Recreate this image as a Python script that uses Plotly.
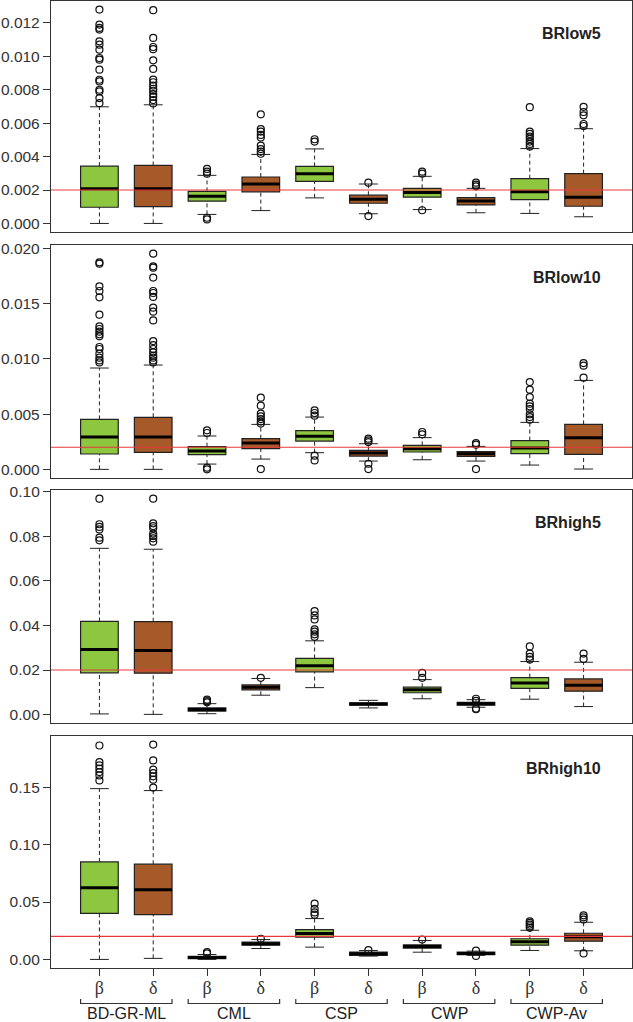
import plotly.graph_objects as go

# order of boxes: BD-GR-ML b/d, CML b/d, CSP b/d, CWP b/d, CWP-Av b/d
methods = ["BD-GR-ML", "CML", "CSP", "CWP", "CWP-Av"]
params = ["β", "δ"]
panel_names = ["BRlow5", "BRlow10", "BRhigh5", "BRhigh10"]
ref_lines = [0.002, 0.002, 0.02, 0.02]

brlow5_lower = [0.0, 0.0, 0.00054, 0.00077, 0.00153, 0.00058, 0.00083, 0.00064, 0.0006, 0.0004]
brlow5_q1 = [0.00097, 0.00101, 0.00133, 0.00189, 0.00252, 0.00121, 0.00157, 0.00111, 0.00143, 0.00103]
brlow5_median = [0.00208, 0.00208, 0.00163, 0.00236, 0.00298, 0.00145, 0.00185, 0.00135, 0.00189, 0.00157]
brlow5_q3 = [0.00343, 0.00347, 0.00192, 0.00278, 0.00341, 0.00169, 0.0021, 0.00155, 0.00268, 0.00298]
brlow5_upper = [0.00698, 0.0071, 0.00288, 0.00413, 0.00446, 0.00236, 0.00282, 0.0021, 0.00448, 0.00567]
brlow5_outliers = [
    [0.0128, 0.0119, 0.0117, 0.0116, 0.0109, 0.0107, 0.0104, 0.0099, 0.0098, 0.0092, 0.0086, 0.0085, 0.0080, 0.0079, 0.0075, 0.0072],
    [0.01276, 0.0111, 0.01056, 0.01043, 0.00976, 0.00925, 0.00861, 0.00845, 0.00825, 0.00806, 0.00794, 0.00774, 0.00758, 0.00738, 0.00718],
    [0.00326, 0.0031, 0.00298, 0.00034, 0.00024],
    [0.00653, 0.00565, 0.0055, 0.0053, 0.00514, 0.00466, 0.00445, 0.0043, 0.00417],
    [0.00504, 0.0049],
    [0.00244, 0.00044],
    [0.0031, 0.00298, 0.00079],
    [0.00244, 0.00232, 0.00222],
    [0.00696, 0.0055, 0.00536, 0.0052, 0.00506, 0.0049, 0.00476, 0.0046],
    [0.00698, 0.00667, 0.00647, 0.00595, 0.00583],
]

brlow10_lower = [0.0, 0.0, 0.00048, 0.00093, 0.00151, 0.00075, 0.00087, 0.00075, 0.00039, 0.00003]
brlow10_q1 = [0.00139, 0.00154, 0.00133, 0.00187, 0.00256, 0.0012, 0.00157, 0.00118, 0.00142, 0.00136]
brlow10_median = [0.00293, 0.00293, 0.00166, 0.00238, 0.00299, 0.00148, 0.00187, 0.00142, 0.00193, 0.00287]
brlow10_q3 = [0.00452, 0.00471, 0.00205, 0.00278, 0.0035, 0.00172, 0.00217, 0.0016, 0.0026, 0.00407]
brlow10_upper = [0.00917, 0.00944, 0.00302, 0.00407, 0.00473, 0.00232, 0.00287, 0.00208, 0.00425, 0.00805]
brlow10_outliers = [
    [0.01873, 0.01861, 0.01656, 0.01614, 0.01557, 0.014, 0.01294, 0.0127, 0.01246, 0.01222, 0.01204, 0.01107, 0.01089, 0.01047, 0.01011, 0.00986, 0.00968],
    [0.01952, 0.01837, 0.01825, 0.01735, 0.01614, 0.01596, 0.0156, 0.01463, 0.01427, 0.01348, 0.01161, 0.01125, 0.01089, 0.01059, 0.01029, 0.01011, 0.00986, 0.00968],
    [0.00353, 0.00329, 0.00015, 0.0],
    [0.00649, 0.00576, 0.00504, 0.0048, 0.00455, 0.00432, 0.00414, 0.00003],
    [0.00534, 0.0051, 0.00486, 0.00124, 0.00081],
    [0.00278, 0.00262, 0.00247, 0.00051, 0.00003],
    [0.00338, 0.00317],
    [0.00238, 0.00223, 0.00003],
    [0.0079, 0.00721, 0.00654, 0.00594, 0.0057, 0.00546, 0.00498, 0.00473, 0.0045],
    [0.00962, 0.00938, 0.0083],
]

brhigh5_lower = [0.0003, 0.0001, 0.0004, 0.0087, 0.0121, 0.003, 0.0071, 0.0033, 0.0069, 0.0036]
brhigh5_q1 = [0.01873, 0.0186, 0.0015, 0.0111, 0.0192, 0.0042, 0.0098, 0.0042, 0.0118, 0.0105]
brhigh5_median = [0.0292, 0.0288, 0.0023, 0.0123, 0.0219, 0.0047, 0.0111, 0.0049, 0.0142, 0.0132]
brhigh5_q3 = [0.0418, 0.0417, 0.003, 0.0133, 0.0252, 0.0053, 0.0123, 0.0055, 0.0166, 0.016]
brhigh5_upper = [0.0746, 0.0742, 0.0049, 0.0162, 0.0331, 0.0064, 0.0157, 0.0067, 0.0238, 0.0235]
brhigh5_outliers = [
    [0.0969, 0.0854, 0.0842, 0.0831, 0.0794, 0.0782],
    [0.0969, 0.0858, 0.0846, 0.0836, 0.0812, 0.0801, 0.0791, 0.0776],
    [0.0067, 0.006, 0.0055],
    [0.0165],
    [0.0464, 0.0445, 0.0427, 0.0382, 0.0372, 0.036, 0.0349],
    [],
    [0.0187, 0.0165],
    [0.0071, 0.0062, 0.0027, 0.0024],
    [0.0306, 0.0274, 0.0259, 0.0247],
    [0.0274, 0.025],
]

brhigh10_lower = [0.0, 0.0009, 0.0, 0.0095, 0.0107, 0.0029, 0.0063, 0.0035, 0.0078, 0.0075]
brhigh10_q1 = [0.0402, 0.039, 0.0006, 0.0124, 0.0194, 0.0035, 0.0098, 0.0041, 0.0124, 0.0159]
brhigh10_median = [0.0624, 0.0607, 0.0017, 0.0137, 0.0226, 0.0049, 0.0113, 0.0051, 0.0153, 0.0197]
brhigh10_q3 = [0.085, 0.083, 0.0026, 0.015, 0.026, 0.0063, 0.0127, 0.0063, 0.018, 0.0228]
brhigh10_upper = [0.1489, 0.1472, 0.0043, 0.0173, 0.0356, 0.0078, 0.0165, 0.0072, 0.0254, 0.0324]
brhigh10_outliers = [
    [0.1865, 0.172, 0.1691, 0.1663, 0.1633, 0.1604, 0.1561],
    [0.1873, 0.1735, 0.1654, 0.1625, 0.1596, 0.1567, 0.1498],
    [0.0063, 0.0052],
    [0.018],
    [0.0486, 0.044, 0.041, 0.039],
    [0.0081],
    [0.0173],
    [0.0076, 0.003],
    [0.0332, 0.0318, 0.0304, 0.0289, 0.0275],
    [0.0384, 0.0367, 0.0347, 0.0052],
]

panels = [
    (brlow5_lower, brlow5_q1, brlow5_median, brlow5_q3, brlow5_upper, brlow5_outliers),
    (brlow10_lower, brlow10_q1, brlow10_median, brlow10_q3, brlow10_upper, brlow10_outliers),
    (brhigh5_lower, brhigh5_q1, brhigh5_median, brhigh5_q3, brhigh5_upper, brhigh5_outliers),
    (brhigh10_lower, brhigh10_q1, brhigh10_median, brhigh10_q3, brhigh10_upper, brhigh10_outliers),
]
y_ticks = [
    ([0, 0.002, 0.004, 0.006, 0.008, 0.010, 0.012], ".3f"),
    ([0, 0.005, 0.010, 0.015, 0.020], ".3f"),
    ([0, 0.02, 0.04, 0.06, 0.08, 0.10], ".2f"),
    ([0, 0.05, 0.10, 0.15], ".2f"),
]

GREEN = "#8DC63F"
BROWN = "#A65A2A"
RED = "#E8383D"
AXIS = "#333333"
W = 633
H = 1022
M_L, M_R, M_T, M_B = 51, 1, 1, 54
PLOT_H = H - M_T - M_B
# pixel rows (top, bottom) of each panel
panel_px = [(1, 232), (245, 478), (490, 723), (736, 968)]

BOX_W = 0.7
positions = list(range(1, 11))

fig = go.Figure()
layout_axes = {}
shapes = []
annotations = []

for n, (lower, q1, med, q3, upper, outl) in enumerate(panels, start=1):
    xa = "x" if n == 1 else f"x{n}"
    ya = "y" if n == 1 else f"y{n}"

    for k, color in enumerate([GREEN, BROWN]):
        idx = [i for i in range(10) if i % 2 == k]
        fig.add_trace(go.Box(
            x=[positions[i] for i in idx],
            q1=[q1[i] for i in idx],
            median=[med[i] for i in idx],
            q3=[q3[i] for i in idx],
            lowerfence=[q1[i] for i in idx],
            upperfence=[q3[i] for i in idx],
            width=BOX_W,
            whiskerwidth=0,
            fillcolor=color,
            line=dict(color="#222222", width=1.2),
            boxpoints=False,
            hoverinfo="skip",
            showlegend=False,
            xaxis=xa,
            yaxis=ya,
        ))

    wx, wy, cx, cy, mx, my, ox, oy = [], [], [], [], [], [], [], []
    for i, p in enumerate(positions):
        wx += [p, p, None, p, p, None]
        wy += [lower[i], q1[i], None, q3[i], upper[i], None]
        cx += [p - BOX_W / 4, p + BOX_W / 4, None, p - BOX_W / 4, p + BOX_W / 4, None]
        cy += [lower[i], lower[i], None, upper[i], upper[i], None]
        mx += [p - BOX_W / 2, p + BOX_W / 2, None]
        my += [med[i], med[i], None]
        ox += [p] * len(outl[i])
        oy += outl[i]

    fig.add_trace(go.Scatter(x=wx, y=wy, mode="lines", line=dict(color="#222222", width=1, dash="4px,3px"),
                             hoverinfo="skip", showlegend=False, xaxis=xa, yaxis=ya))
    fig.add_trace(go.Scatter(x=cx, y=cy, mode="lines", line=dict(color="#222222", width=1),
                             hoverinfo="skip", showlegend=False, xaxis=xa, yaxis=ya))
    fig.add_trace(go.Scatter(x=mx, y=my, mode="lines", line=dict(color="#000000", width=3),
                             hoverinfo="skip", showlegend=False, xaxis=xa, yaxis=ya))
    fig.add_trace(go.Scatter(x=ox, y=oy, mode="markers",
                             marker=dict(symbol="circle-open", size=7, color="#111111", line=dict(width=1.2)),
                             hoverinfo="skip", showlegend=False, xaxis=xa, yaxis=ya))

    # R-style axis limits: data range extended by 4%
    all_vals = lower + upper + [v for o in outl for v in o]
    lo, hi = min(all_vals), max(all_vals)
    pad = (hi - lo) * 0.04
    top_px, bot_px = panel_px[n - 1]
    dom = [(H - M_B - bot_px) / PLOT_H, (H - M_B - top_px) / PLOT_H]
    tv, fmt = y_ticks[n - 1]

    layout_axes["yaxis" if n == 1 else f"yaxis{n}"] = dict(
        domain=dom, range=[lo - pad, hi + pad], anchor=xa, automargin=False,
        tickvals=tv, tickformat=fmt, ticks="outside", ticklen=7, tickwidth=1, tickcolor=AXIS,
        tickfont=dict(size=15.5, color=AXIS), showgrid=False, zeroline=False,
        showline=True, mirror=True, linecolor=AXIS, linewidth=1.3,
    )
    xdict = dict(
        range=[0.1, 10.9], anchor=ya, automargin=False, showgrid=False, zeroline=False,
        showline=True, mirror=True, linecolor=AXIS, linewidth=1.3,
        showticklabels=False, ticks="",
    )
    if n == 4:
        xdict.update(
            tickvals=positions, ticktext=[params[i % 2] for i in range(10)],
            showticklabels=True, ticks="outside", ticklen=7, tickwidth=1, tickcolor=AXIS,
            ticklabelstandoff=-4,
            tickfont=dict(family="Liberation Serif, Times New Roman, serif", size=18, color=AXIS),
        )
    layout_axes["xaxis" if n == 1 else f"xaxis{n}"] = xdict

    shapes.append(dict(type="line", xref=f"{xa} domain", x0=0, x1=1, yref=ya,
                       y0=ref_lines[n - 1], y1=ref_lines[n - 1], line=dict(color=RED, width=1.2)))
    annotations.append(dict(xref=f"{xa} domain", yref=f"{ya} domain", x=0.95, y=0.86,
                            xanchor="right", yanchor="middle", text=f"<b>{panel_names[n - 1]}</b>",
                            showarrow=False, font=dict(size=16, color="#222222")))

# group brackets and labels under the bottom panel
def paper_y(px):
    return (H - M_B - px) / PLOT_H

for g, name in enumerate(methods):
    x0 = positions[2 * g] - BOX_W / 2
    x1 = positions[2 * g + 1] + BOX_W / 2
    y_top, y_bot = paper_y(999), paper_y(1003.5)
    shapes.append(dict(type="path", xref="x4", yref="paper",
                       path=f"M {x0},{y_top} L {x0},{y_bot} L {x1},{y_bot} L {x1},{y_top}",
                       line=dict(color=AXIS, width=1.2)))
    annotations.append(dict(xref="x4", yref="paper", x=(x0 + x1) / 2, y=paper_y(1013.5),
                            xanchor="center", yanchor="middle", text=name, showarrow=False,
                            font=dict(size=16, color="#222222")))

fig.update_layout(
    template="none",
    width=W, height=H,
    margin=dict(l=M_L, r=M_R, t=M_T, b=M_B),
    paper_bgcolor="white", plot_bgcolor="white",
    font=dict(family="Liberation Sans, Arial, sans-serif"),
    boxmode="overlay",
    shapes=shapes, annotations=annotations,
    **layout_axes,
)

# drop the browser's default body margin so the figure sits at the page corner
fig.write_html("out.html", config={"displayModeBar": False},
               post_script="document.body.style.margin='0';")
